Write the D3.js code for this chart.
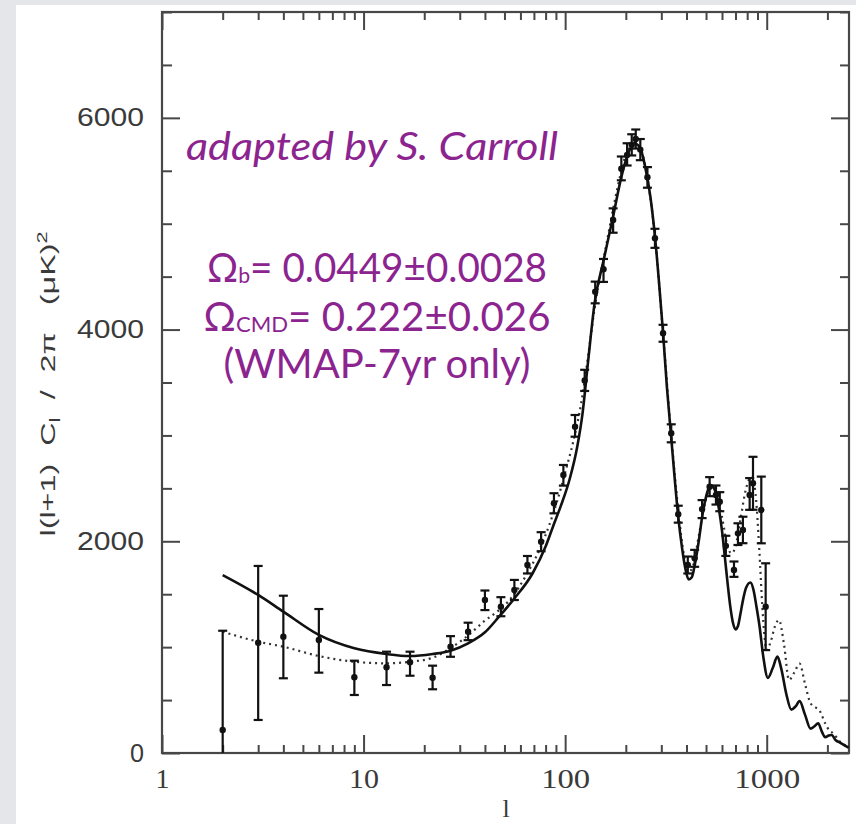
<!DOCTYPE html>
<html>
<head>
<meta charset="utf-8">
<script src="https://cdn.jsdelivr.net/npm/d3@7"></script>
<style>
  html, body { margin: 0; padding: 0; background: #e5e6ea; }
  svg { display: block; }
</style>
</head>
<body>
<script>
// ---------------- data ----------------
// binned measurements: multipole l, value, lower and upper error
const dataL  = [2, 3, 4, 6, 9, 13, 17, 22, 27, 33, 40, 48, 56, 65, 76, 88, 98, 112, 125, 141, 155, 173, 190, 203, 214, 224, 236, 256, 279, 306, 336, 364, 406, 439, 478, 521, 560, 585, 627, 688, 720, 762, 823, 855, 940, 988];
const dataV  = [217, 1042, 1099, 1067, 715, 810, 857, 711, 1004, 1146, 1445, 1382, 1540, 1776, 1996, 2359, 2626, 3083, 3520, 4358, 4570, 5035, 5520, 5650, 5745, 5800, 5700, 5440, 4862, 3965, 3020, 2256, 1776, 1839, 2304, 2516, 2437, 2374, 1957, 1729, 2075, 2107, 2437, 2548, 2296, 1382];
const errLo  = [217, 730, 393, 308, 167, 168, 127, 109, 95, 80, 95, 90, 95, 80, 90, 95, 100, 95, 100, 110, 120, 120, 110, 100, 100, 90, 100, 100, 90, 80, 85, 80, 80, 80, 85, 90, 90, 90, 95, 65, 110, 125, 140, 250, 315, 410];
const errHi  = [938, 725, 387, 293, 157, 147, 100, 114, 100, 85, 90, 90, 95, 85, 90, 95, 95, 110, 100, 95, 97, 110, 115, 110, 100, 90, 100, 95, 90, 80, 85, 80, 80, 80, 85, 90, 90, 90, 95, 80, 95, 125, 160, 250, 315, 410];

// model curve (solid)
const solidL = [2, 3, 4, 6, 9, 13, 17, 22, 27, 33, 40, 47, 56, 69, 80, 87, 95, 105, 115, 122, 130, 140, 155, 173, 190, 205, 220, 235, 250, 265, 280, 295, 306, 320, 336, 350, 364, 380, 395, 410, 425, 440, 460, 480, 500, 515, 530, 545, 560, 580, 600, 620, 640, 660, 680, 700, 720, 740, 760, 790, 830, 860, 890, 922, 960, 1014, 1070, 1130, 1180, 1250, 1324, 1390, 1456, 1550, 1650, 1720, 1800, 1880, 1950, 2030, 2100, 2200, 2300, 2420, 2550];
const solidV = [1681, 1493, 1335, 1115, 989, 935, 916, 935, 966, 1036, 1140, 1288, 1460, 1698, 1950, 2138, 2330, 2579, 2900, 3209, 3700, 4250, 4650, 5070, 5440, 5660, 5760, 5720, 5530, 5250, 4850, 4350, 3970, 3450, 2980, 2580, 2230, 1940, 1740, 1640, 1660, 1780, 2000, 2250, 2420, 2500, 2530, 2510, 2450, 2300, 2100, 1850, 1600, 1380, 1230, 1168, 1200, 1310, 1430, 1560, 1610, 1540, 1380, 1193, 920, 710, 800, 910, 800, 560, 410, 440, 490, 360, 230, 250, 280, 200, 150, 165, 170, 120, 100, 75, 50];

// model curve (dotted)
const dottedL = [2, 3, 4, 6, 9, 13, 17, 22, 27, 33, 40, 47, 53, 65, 75, 84, 92, 100, 110, 120, 130, 140, 160, 180, 200, 220, 240, 260, 280, 306, 336, 364, 390, 410, 430, 460, 500, 530, 560, 600, 640, 668, 700, 740, 790, 843, 880, 920, 950, 975, 1000, 1050, 1100, 1150, 1220, 1290, 1370, 1456, 1550, 1650, 1750, 1830, 1950, 2050, 2140, 2300, 2550];
const dottedV = [1146, 1052, 1004, 916, 862, 847, 862, 900, 990, 1110, 1250, 1350, 1445, 1700, 1930, 2170, 2400, 2650, 2950, 3300, 3750, 4200, 4800, 5300, 5650, 5780, 5680, 5350, 4850, 3960, 3000, 2300, 1850, 1713, 1760, 2050, 2400, 2520, 2470, 2230, 1950, 1886, 1950, 2200, 2500, 2610, 2450, 1900, 1400, 1100, 973, 1060, 1200, 1256, 1020, 690, 760, 845, 650, 470, 430, 400, 280, 210, 186, 110, 60];

// axes
const xMajorTicks = [1, 10, 100, 1000];
const xTickLabels = ["1", "10", "100", "1000"];
const yMajorTicks = [0, 2000, 4000, 6000];
const yTickLabels = ["0", "2000", "4000", "6000"];

// annotation texts
const noteTitle = "adapted by S. Carroll";
const noteLines = [
  {main: "\u03A9", sub: "b", rest: "= 0.0449\u00B10.0028"},
  {main: "\u03A9", sub: "CMD", rest: "= 0.222\u00B10.026"},
  {main: "(WMAP-7yr only)", sub: "", rest: ""}
];

// ---------------- drawing ----------------
const W = 856, H = 824;
const svg = d3.select("body").append("svg").attr("width", W).attr("height", H);

svg.append("rect").attr("x", 0).attr("y", 0).attr("width", W).attr("height", H).attr("fill", "#e5e6ea");
svg.append("rect").attr("x", 16).attr("y", 5).attr("width", W - 16).attr("height", H - 5).attr("fill", "#ffffff");

const L = 162, R = 849, T = 12, B = 753;
const x = d3.scaleLog().domain([1, 2560]).range([L, R]);
const y = d3.scaleLinear().domain([0, 7000]).range([B, T]);

const xMinor = x.ticks().filter(t => !xMajorTicks.includes(t));
const yMinor = d3.range(0, 7001, 500).filter(t => !yMajorTicks.includes(t));

const axisColor = "#474747";
function styleAxis(g) {
  g.select(".domain").remove();
  g.selectAll(".tick line").attr("stroke", axisColor).attr("stroke-width", 2);
}

// bottom
svg.append("g").attr("transform", `translate(0,${B})`)
  .call(d3.axisBottom(x).tickValues(xMajorTicks).tickSize(-18).tickPadding(15)
        .tickFormat((d, i) => xTickLabels[i]))
  .call(styleAxis)
  .call(g => g.selectAll("text").attr("font-family", "'Liberation Serif', 'Times New Roman', serif")
        .attr("font-size", 28).attr("fill", "#3a3a3a")
        .attr("textLength", (d, i) => i === 0 ? null : [0, 30, 49, 66][i])
        .attr("lengthAdjust", "spacingAndGlyphs"));
svg.append("g").attr("transform", `translate(0,${B})`)
  .call(d3.axisBottom(x).tickValues(xMinor).tickSize(-8).tickFormat(""))
  .call(styleAxis);
// top
svg.append("g").attr("transform", `translate(0,${T})`)
  .call(d3.axisTop(x).tickValues(xMajorTicks).tickSize(-18).tickFormat(""))
  .call(styleAxis);
svg.append("g").attr("transform", `translate(0,${T})`)
  .call(d3.axisTop(x).tickValues(xMinor).tickSize(-8).tickFormat(""))
  .call(styleAxis);
// left
svg.append("g").attr("transform", `translate(${L},0)`)
  .call(d3.axisLeft(y).tickValues(yMajorTicks).tickSize(-18).tickPadding(18)
        .tickFormat((d, i) => yTickLabels[i]))
  .call(styleAxis)
  .call(g => g.selectAll("text").attr("font-family", "'Liberation Sans', Arial, Helvetica, sans-serif")
        .attr("font-size", 25).attr("fill", "#3a3a3a")
        .attr("textLength", (d, i) => i === 0 ? 14 : 67).attr("lengthAdjust", "spacingAndGlyphs"));
svg.append("g").attr("transform", `translate(${L},0)`)
  .call(d3.axisLeft(y).tickValues(yMinor).tickSize(-10).tickFormat(""))
  .call(styleAxis);
// right
svg.append("g").attr("transform", `translate(${R},0)`)
  .call(d3.axisRight(y).tickValues(yMajorTicks).tickSize(-18).tickFormat(""))
  .call(styleAxis);
svg.append("g").attr("transform", `translate(${R},0)`)
  .call(d3.axisRight(y).tickValues(yMinor).tickSize(-9).tickFormat(""))
  .call(styleAxis);

// frame
svg.append("rect").attr("x", L).attr("y", T).attr("width", R - L).attr("height", B - T)
  .attr("fill", "none").attr("stroke", axisColor).attr("stroke-width", 2.2);

// axis titles
svg.append("text")
  .attr("x", 506).attr("y", 817).attr("text-anchor", "middle")
  .attr("font-family", "'Liberation Serif', 'Times New Roman', serif")
  .attr("font-size", 26).attr("fill", "#3a3a3a").text("l");

const yt = svg.append("text")
  .attr("transform", "translate(55,384) rotate(-90)")
  .attr("text-anchor", "middle")
  .style("white-space", "pre")
  .attr("font-family", "'Liberation Sans', Arial, Helvetica, sans-serif")
  .attr("font-size", 21).attr("fill", "#3a3a3a")
  .attr("textLength", 305).attr("lengthAdjust", "spacingAndGlyphs");
yt.append("tspan").text("l(l+1)  C");
yt.append("tspan").attr("font-size", 15).attr("dy", 5).text("l");
yt.append("tspan").attr("dy", -5).text("  /  2\u03C0   (\u03BCK)");
yt.append("tspan").attr("font-size", 14).attr("dy", -8).text("2");

// curves
const line = d3.line().x(d => x(d[0])).y(d => y(d[1])).curve(d3.curveMonotoneX);
svg.append("path").datum(dottedL.map((l, i) => [l, dottedV[i]]))
  .attr("d", line).attr("fill", "none").attr("stroke", "#333")
  .attr("stroke-width", 2.2).attr("stroke-dasharray", "2,4");
svg.append("path").datum(solidL.map((l, i) => [l, solidV[i]]))
  .attr("d", line).attr("fill", "none").attr("stroke", "#111")
  .attr("stroke-width", 2.6).attr("stroke-linejoin", "round");

// data points with error bars
const pts = dataL.map((l, i) => ({l, v: dataV[i], lo: dataV[i] - errLo[i], hi: dataV[i] + errHi[i]}));
const pg = svg.append("g").attr("stroke", "#111").attr("stroke-width", 2.2);
pg.selectAll("line.eb").data(pts).join("line").attr("class", "eb")
  .attr("x1", d => x(d.l)).attr("x2", d => x(d.l))
  .attr("y1", d => y(d.lo)).attr("y2", d => y(d.hi));
pg.selectAll("line.ct").data(pts).join("line").attr("class", "ct")
  .attr("x1", d => x(d.l) - 4.5).attr("x2", d => x(d.l) + 4.5)
  .attr("y1", d => y(d.hi)).attr("y2", d => y(d.hi));
pg.selectAll("line.cb").data(pts.filter(d => d.lo > 0)).join("line").attr("class", "cb")
  .attr("x1", d => x(d.l) - 4.5).attr("x2", d => x(d.l) + 4.5)
  .attr("y1", d => y(d.lo)).attr("y2", d => y(d.lo));
svg.append("g").selectAll("circle").data(pts).join("circle")
  .attr("cx", d => x(d.l)).attr("cy", d => y(d.v)).attr("r", 3.2).attr("fill", "#111");

// annotation
const purple = "#8c2490";
const fontP = "Lato, 'Open Sans', 'Noto Sans', sans-serif";
svg.append("text").attr("x", 372).attr("y", 160).attr("text-anchor", "middle")
  .attr("font-family", fontP).attr("font-style", "italic").attr("font-size", 38)
  .attr("fill", purple).attr("textLength", 372).attr("lengthAdjust", "spacingAndGlyphs")
  .text(noteTitle);

const lineY = [282, 331, 378];
const lineW = [340, 347, 307];
noteLines.forEach((n, i) => {
  const t = svg.append("text").attr("x", 377).attr("y", lineY[i]).attr("text-anchor", "middle")
    .attr("font-family", fontP).attr("font-size", 40).attr("fill", purple)
    .attr("textLength", lineW[i]).attr("lengthAdjust", "spacingAndGlyphs");
  t.append("tspan").text(n.main);
  if (n.sub) t.append("tspan").attr("font-size", 22).attr("dy", 1).text(n.sub);
  if (n.rest) t.append("tspan").attr("dy", n.sub ? -1 : 0).text(n.rest);
});
</script>
</body>
</html>
